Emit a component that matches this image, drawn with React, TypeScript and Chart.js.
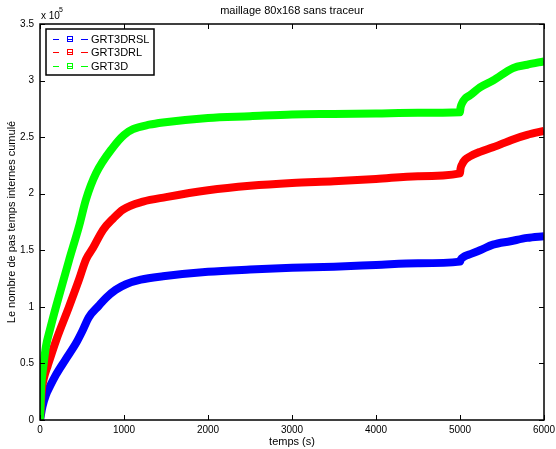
import React, { useEffect, useRef } from 'react';
import { Chart, registerables } from 'chart.js';

Chart.register(...registerables);

const TITLE = 'maillage 80x168 sans traceur';
const X_LABEL = 'temps (s)';
const Y_LABEL = 'Le nombre de pas temps internes cumulé';
const SERIES_NAMES = ['GRT3DRSL', 'GRT3DRL', 'GRT3D'];
const SERIES_COLORS = ['#0000ff', '#ff0000', '#00ff00'];
const X_TICKS = [0, 1000, 2000, 3000, 4000, 5000, 6000];
const Y_TICKS = [0, 50000, 100000, 150000, 200000, 250000, 300000, 350000];

const tBlue = [0, 30, 70, 120, 190, 300, 430, 500, 583, 700, 786, 900, 1024, 1200, 1464, 2000, 2500, 3000, 3500, 4000, 4500, 5000, 5010, 5040, 5100, 5238, 5393, 5600, 5800, 6000];
const vBlue = [0, 12000, 22000, 30000, 40000, 53000, 68000, 78000, 91000, 101000, 108000, 115000, 120000, 124000, 127000, 131000, 133000, 134500, 135500, 137000, 138500, 140000, 142000, 144000, 146000, 150000, 155000, 158000, 161000, 162500];

const tRed = [0, 20, 50, 92, 190, 345, 464, 548, 630, 750, 870, 988, 1226, 1500, 2000, 2500, 3000, 3500, 4000, 4500, 5000, 5006, 5025, 5060, 5119, 5238, 5393, 5631, 5800, 6000];
const vRed = [0, 25000, 38000, 48000, 70000, 100000, 124000, 142000, 152000, 168000, 178000, 186000, 193000, 197000, 203000, 207000, 209500, 211000, 213000, 215500, 218000, 222000, 226000, 230000, 233000, 237000, 241000, 248000, 252000, 255500];

const tGreen = [0, 15, 36, 71, 119, 190, 345, 464, 548, 667, 869, 1000, 1107, 1300, 1464, 2000, 2500, 3000, 3500, 4000, 4500, 5000, 5006, 5025, 5060, 5119, 5238, 5393, 5631, 5800, 6000];
const vGreen = [0, 30000, 45000, 65000, 80000, 100000, 141000, 171000, 195000, 218000, 241000, 252000, 257000, 261000, 263000, 267000, 268500, 270000, 270500, 271000, 271500, 272000, 276000, 280000, 284000, 287000, 294000, 300000, 311000, 314000, 317000];

const FONT = 'Liberation Sans, Arial, Helvetica, sans-serif';

function pts(t: number[], v: number[]) {
  return t.map((x, i) => ({ x, y: v[i] }));
}

const decorPlugin = {
  id: 'decor',
  afterDraw(chart: any) {
    const ctx = chart.ctx;
    const { left, right, top, bottom } = chart.chartArea;
    const xs = chart.scales.x;
    const ys = chart.scales.y;
    ctx.save();
    ctx.strokeStyle = '#000';
    ctx.lineWidth = 1;
    ctx.beginPath();
    X_TICKS.forEach((t) => {
      const px = Math.round(xs.getPixelForValue(t)) + 0.5;
      ctx.moveTo(px, bottom);
      ctx.lineTo(px, bottom - 5);
      ctx.moveTo(px, top);
      ctx.lineTo(px, top + 5);
    });
    Y_TICKS.forEach((t) => {
      const py = Math.round(ys.getPixelForValue(t)) + 0.5;
      ctx.moveTo(left, py);
      ctx.lineTo(left + 5, py);
      ctx.moveTo(right, py);
      ctx.lineTo(right - 5, py);
    });
    ctx.stroke();
    ctx.lineWidth = 1.5;
    ctx.strokeRect(Math.round(left), Math.round(top), Math.round(right - left), Math.round(bottom - top));

    ctx.fillStyle = '#000';
    ctx.font = `11px ${FONT}`;
    ctx.textAlign = 'center';
    ctx.textBaseline = 'middle';
    ctx.fillText(TITLE, (left + right) / 2, 11);

    ctx.textAlign = 'left';
    ctx.textBaseline = 'alphabetic';
    ctx.font = `10px ${FONT}`;
    ctx.fillText('x 10', 41, 19);
    ctx.font = `7px ${FONT}`;
    ctx.fillText('5', 59, 12);

    const lx = 46, ly = 29, lw = 108, lh = 46;
    ctx.fillStyle = '#fff';
    ctx.fillRect(lx, ly, lw, lh);
    ctx.lineWidth = 1.5;
    ctx.strokeStyle = '#000';
    ctx.strokeRect(lx, ly, lw, lh);
    const rows = [39.5, 52.5, 66.5];
    SERIES_NAMES.forEach((name, i) => {
      const y = rows[i];
      ctx.strokeStyle = SERIES_COLORS[i];
      ctx.lineWidth = 1;
      ctx.beginPath();
      ctx.moveTo(53, y);
      ctx.lineTo(59, y);
      ctx.moveTo(81, y);
      ctx.lineTo(88, y);
      ctx.moveTo(67, y);
      ctx.lineTo(73, y);
      ctx.stroke();
      ctx.strokeRect(67.5, y - 3, 5, 5);
      ctx.fillStyle = '#000';
      ctx.font = `11px ${FONT}`;
      ctx.textBaseline = 'middle';
      ctx.fillText(name, 91, y + 0.5);
    });
    ctx.restore();
  },
};

export default function App() {
  const ref = useRef<HTMLCanvasElement>(null);
  useEffect(() => {
    document.body.style.margin = '0';
    const canvas = ref.current;
    if (!canvas) return;
    const seriesT = [tBlue, tRed, tGreen];
    const seriesV = [vBlue, vRed, vGreen];
    const chart = new Chart(canvas, {
      type: 'line',
      data: {
        datasets: SERIES_NAMES.map((name, i) => ({
          label: name,
          data: pts(seriesT[i], seriesV[i]),
          borderColor: SERIES_COLORS[i],
          backgroundColor: SERIES_COLORS[i],
          borderWidth: 8,
          pointRadius: 0,
          cubicInterpolationMode: 'monotone' as const,
          borderJoinStyle: 'round' as const,
          fill: false,
          order: 3 - i,
        })),
      },
      options: {
        responsive: false,
        animation: false,
        layout: { padding: { top: 24, right: 12, left: 0, bottom: 0 } },
        plugins: {
          legend: { display: false },
          title: { display: false },
          tooltip: { enabled: false },
        },
        scales: {
          x: {
            type: 'linear',
            min: 0,
            max: 6000,
            grid: { display: false, drawTicks: false },
            border: { display: false },
            afterBuildTicks: (s: any) => {
              s.ticks = X_TICKS.map((v) => ({ value: v }));
            },
            afterFit: (s: any) => {
              s.height = 29;
              s.paddingLeft = 0;
              s.paddingRight = 0;
            },
            ticks: {
              color: '#000',
              font: { family: FONT, size: 10 },
              padding: 4,
              maxRotation: 0,
              callback: (v: any) => String(v),
            },
            title: {
              display: true,
              text: X_LABEL,
              color: '#000',
              font: { family: FONT, size: 11 },
              padding: 0,
            },
          },
          y: {
            type: 'linear',
            min: 0,
            max: 350000,
            grid: { display: false, drawTicks: false },
            border: { display: false },
            afterBuildTicks: (s: any) => {
              s.ticks = Y_TICKS.map((v) => ({ value: v }));
            },
            afterFit: (s: any) => {
              s.width = 40;
              s.paddingTop = 0;
              s.paddingBottom = 0;
            },
            ticks: {
              color: '#000',
              font: { family: FONT, size: 10 },
              padding: 6,
              callback: (v: any) => String(Number(v) / 100000),
            },
            title: {
              display: true,
              text: Y_LABEL,
              color: '#000',
              font: { family: FONT, size: 11 },
              padding: { top: 5, bottom: 0 },
            },
          },
        },
      },
      plugins: [decorPlugin],
    });
    return () => chart.destroy();
  }, []);
  return <canvas ref={ref} width={556} height={449} style={{ display: 'block' }} />;
}
